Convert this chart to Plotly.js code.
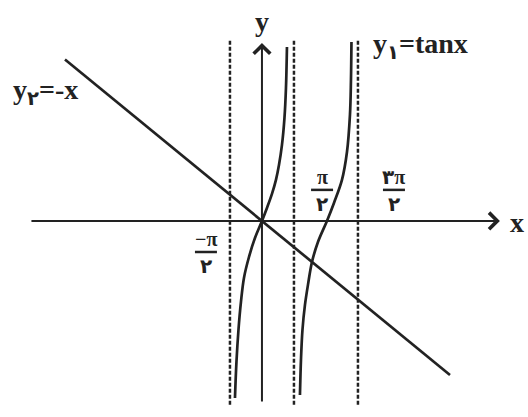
<!DOCTYPE html>
<html>
<head>
<meta charset="utf-8">
<script src="https://cdn.plot.ly/plotly-3.0.1.min.js"></script>
<style>html,body{margin:0;padding:0;background:#fff;}#chart{width:528px;height:417px;}</style>
</head>
<body>
<div id="chart"></div>
<script>
// ---- data (x in radians, y in the same units as y2 = -x) ----
const asymptoteX = [-1.571, 1.571, 4.712];
const asymptoteSpanY = [-11.0, 10.84];

const lineX = [-9.67, 9.23];
const lineY = [9.67, -9.23];

const tanBranch1X = [-1.325, -1.252, -1.154, -1.031, -0.884, -0.638, -0.344, 0, 0.245, 0.491, 0.687, 0.835, 0.982, 1.105, 1.178, 1.227];
const tanBranch1Y = [-10.60, -8.44, -6.53, -4.85, -3.41, -2.16, -1.02, 0, 0.78, 1.62, 2.46, 3.35, 4.55, 6.17, 7.96, 10.42];

const tanBranch2X = [1.865, 1.915, 1.988, 2.111, 2.258, 2.455, 2.749, 3.191, 3.535, 3.927, 4.173, 4.320, 4.369, 4.394];
const tanBranch2Y = [-10.42, -8.32, -6.53, -5.03, -3.83, -2.46, -1.26, 0, 1.08, 2.46, 4.13, 6.35, 8.44, 10.72];

const xAxisSpan = [-11.39, 11.68];
const yAxisSpan = [-10.90, 10.66];

const tickNumerators = ['−π', 'π', '۳π'];
const tickDenominators = ['۲', '۲', '۲'];

// label anchors (data coordinates)
const tickLabelX = [-2.75, 2.95, 6.48];
const tickLabelBarY = [-1.86, 1.86, 1.86];

const INK = '#222';
const FONT = '"Liberation Serif", "DejaVu Serif", "DejaVu Sans", serif';

const traces = [];
asymptoteX.forEach(a => {
  traces.push({x: [a, a], y: asymptoteSpanY, mode: 'lines', line: {color: INK, width: 2.5, dash: '4px,2px'}, hoverinfo: 'skip'});
});
traces.push({x: lineX, y: lineY, mode: 'lines', line: {color: INK, width: 2.7}, hoverinfo: 'skip'});
traces.push({x: tanBranch1X, y: tanBranch1Y, mode: 'lines', line: {color: INK, width: 2.7, shape: 'spline', smoothing: 1}, hoverinfo: 'skip'});
traces.push({x: tanBranch2X, y: tanBranch2Y, mode: 'lines', line: {color: INK, width: 2.7, shape: 'spline', smoothing: 1}, hoverinfo: 'skip'});

const annotations = [
  // x axis with arrow
  {x: xAxisSpan[1], y: 0, ax: xAxisSpan[0], ay: 0, axref: 'x', ayref: 'y', xref: 'x', yref: 'y', text: '', showarrow: true, arrowhead: 4, arrowsize: 1.6, arrowwidth: 2, arrowcolor: INK},
  // y axis with arrow
  {x: 0, y: yAxisSpan[1], ax: 0, ay: yAxisSpan[0], axref: 'x', ayref: 'y', xref: 'x', yref: 'y', text: '', showarrow: true, arrowhead: 4, arrowsize: 1.6, arrowwidth: 2, arrowcolor: INK},
  {x: 0, y: yAxisSpan[1], xref: 'x', yref: 'y', text: '<b>y</b>', showarrow: false, yanchor: 'bottom', yshift: 4, font: {family: FONT, size: 28, color: INK}},
  {x: xAxisSpan[1], y: 0, xref: 'x', yref: 'y', text: '<b>x</b>', showarrow: false, xanchor: 'left', xshift: 8, yshift: -2, font: {family: FONT, size: 28, color: INK}},
  {x: tanBranch2X[tanBranch2X.length - 1], y: tanBranch2Y[tanBranch2Y.length - 1], xref: 'x', yref: 'y', text: '<b>y<sub>۱</sub>=tanx</b>', showarrow: false, xanchor: 'left', yanchor: 'middle', xshift: 20, yshift: -4, font: {family: FONT, size: 28, color: INK}},
  {x: lineX[0], y: lineY[0], xref: 'x', yref: 'y', text: '<b>y<sub>۲</sub>=-x</b>', showarrow: false, xanchor: 'left', yanchor: 'middle', xshift: -54, yshift: -32, font: {family: FONT, size: 28, color: INK}}
];
const shapes = [];
tickNumerators.forEach((n, i) => {
  annotations.push({x: tickLabelX[i], y: tickLabelBarY[i], xref: 'x', yref: 'y', text: '<b>' + n + '</b>', showarrow: false, yanchor: 'bottom', yshift: 0, font: {family: FONT, size: 20, color: INK}});
  annotations.push({x: tickLabelX[i], y: tickLabelBarY[i], xref: 'x', yref: 'y', text: '<b>' + tickDenominators[i] + '</b>', showarrow: false, yanchor: 'top', yshift: -1, font: {family: FONT, size: 20, color: INK}});
  shapes.push({type: 'line', xref: 'x', yref: 'y', xsizemode: 'pixel', ysizemode: 'pixel', xanchor: tickLabelX[i], yanchor: tickLabelBarY[i], x0: -11, x1: 11, y0: 0, y1: 0, line: {color: INK, width: 2.5}});
});

const layout = {
  width: 528, height: 417,
  margin: {l: 0, r: 0, t: 0, b: 0},
  paper_bgcolor: '#fff', plot_bgcolor: '#fff',
  showlegend: false,
  hovermode: false,
  xaxis: {range: [-12.86, 13.06], visible: false, fixedrange: true},
  yaxis: {range: [-11.74, 13.23], visible: false, fixedrange: true},
  annotations: annotations,
  shapes: shapes
};

Plotly.newPlot('chart', traces, layout, {displayModeBar: false, staticPlot: true});
</script>
</body>
</html>
